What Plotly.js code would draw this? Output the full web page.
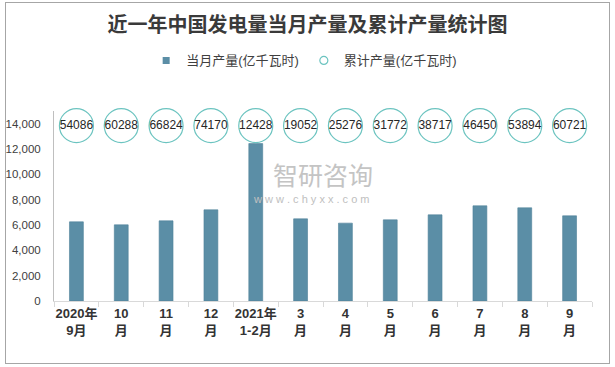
<!DOCTYPE html>
<html>
<head>
<meta charset="utf-8">
<script src="https://cdn.plot.ly/plotly-3.0.1.min.js"></script>
<style>
  html, body { margin: 0; padding: 0; background: #fff; }
  #wrap { position: relative; width: 615px; height: 367px; }
  #chart { position: absolute; left: 0; top: 0; width: 615px; height: 367px; }
  #frame { position: absolute; left: 5px; top: 2px; width: 603px; height: 360px;
           border: 1px solid #a6a6a6; pointer-events: none; }
</style>
</head>
<body>
<div id="wrap">
  <div id="chart"></div>
  <div id="frame"></div>
</div>
<script>
// ---- data ----
const categories = ["2020年<br>9月", "10<br>月", "11<br>月", "12<br>月", "2021年<br>1-2月",
                    "3<br>月", "4<br>月", "5<br>月", "6<br>月", "7<br>月", "8<br>月", "9<br>月"];
const monthly = [6250, 6013, 6329, 7199, 12428, 6487, 6147, 6408, 6804, 7516, 7358, 6725];
const cumulative = [54086, 60288, 66824, 74170, 12428, 19052, 25276, 31772, 38717, 46450, 53894, 60721];
const seriesNames = ["当月产量(亿千瓦时)", "累计产量(亿千瓦时)"];
const labelRow = "累计";          // single category row on the hidden label axis
const yTicks = [0, 2000, 4000, 6000, 8000, 10000, 12000, 14000];

// ---- style ----
const barColor = "#5b8ea6";
const circleColor = "#6cc4c0";
const cjk = "Liberation Sans, Noto Sans CJK SC, sans-serif";

const traces = [
  {
    type: "bar",
    x: categories,
    y: monthly,
    name: seriesNames[0],
    showlegend: false,
    marker: { color: barColor, line: { color: "#4f8299", width: 0.6 } },
    hoverinfo: "x+y"
  },
  {
    type: "scatter",
    mode: "markers+text",
    x: categories,
    y: categories.map(() => labelRow),
    yaxis: "y2",
    name: seriesNames[1],
    showlegend: false,
    text: cumulative.map(String),
    textposition: "middle center",
    textfont: { family: "Liberation Sans, sans-serif", size: 12, color: "#262626" },
    marker: { symbol: "circle-open", size: 34, color: circleColor, line: { width: 1.2, color: circleColor } },
    cliponaxis: false,
    hoverinfo: "text"
  },
  // legend entries
  {
    type: "scatter", mode: "markers", x: [null], y: [null],
    name: seriesNames[0],
    marker: { symbol: "square", size: 7, color: barColor }
  },
  {
    type: "scatter", mode: "markers", x: [null], y: [null],
    name: seriesNames[1],
    marker: { symbol: "circle-open", size: 8, color: circleColor, line: { width: 1.2, color: circleColor } }
  }
];

const layout = {
  width: 615,
  height: 367,
  margin: { l: 54, r: 23, t: 111, b: 66 },
  paper_bgcolor: "#ffffff",
  plot_bgcolor: "#ffffff",
  title: {
    text: "近一年中国发电量当月产量及累计产量统计图",
    font: { family: "Noto Sans CJK SC, sans-serif", size: 20, color: "#3a3a3a", weight: "bold" },
    xref: "container", x: 0.5, xanchor: "center",
    yref: "container", y: 1 - 25 / 367, yanchor: "middle"
  },
  showlegend: true,
  legend: {
    orientation: "h",
    x: 0.465, xanchor: "center",
    y: 1.266, yanchor: "middle",
    font: { family: cjk, size: 13, color: "#404040" },
    itemwidth: 30,
    traceorder: "normal",
    bgcolor: "rgba(0,0,0,0)"
  },
  bargap: 0.69,
  xaxis: {
    type: "category",
    range: [-0.5, categories.length - 0.5],
    showline: true,
    linecolor: "#d9d9d9",
    linewidth: 1,
    ticks: "outside",
    tickson: "boundaries",
    ticklen: 5,
    tickcolor: "#d9d9d9",
    tickangle: 0,
    showgrid: false,
    zeroline: false,
    tickfont: { family: cjk, size: 13, color: "#333333", weight: "bold" },
    fixedrange: true
  },
  yaxis: {
    range: [0, 15000],
    tickvals: yTicks,
    tickformat: ",d",
    showline: true,
    linecolor: "#bfbfbf",
    linewidth: 1,
    showgrid: false,
    zeroline: false,
    ticks: "",
    ticklabelstandoff: 10,
    tickfont: { family: "Liberation Sans, sans-serif", size: 11.5, color: "#404040" },
    fixedrange: true
  },
  yaxis2: {
    type: "category",
    overlaying: "y",
    range: [-0.923, 0.077],
    visible: false,
    fixedrange: true
  },
  annotations: [
    {
      text: "智研咨询",
      xref: "paper", yref: "paper", x: 0.5, y: 0.668,
      xanchor: "center", yanchor: "middle", showarrow: false,
      font: { family: "Noto Sans CJK SC, sans-serif", size: 25, color: "#c4c4c4" }
    },
    {
      text: "w w w . c h y x x . c o m",
      xref: "paper", yref: "paper", x: 0.478, y: 0.535,
      xanchor: "center", yanchor: "middle", showarrow: false,
      font: { family: "Liberation Sans, sans-serif", size: 11, color: "#c0c0c0" }
    }
  ]
};

Plotly.newPlot("chart", traces, layout, { displayModeBar: false, staticPlot: true });
</script>
</body>
</html>
